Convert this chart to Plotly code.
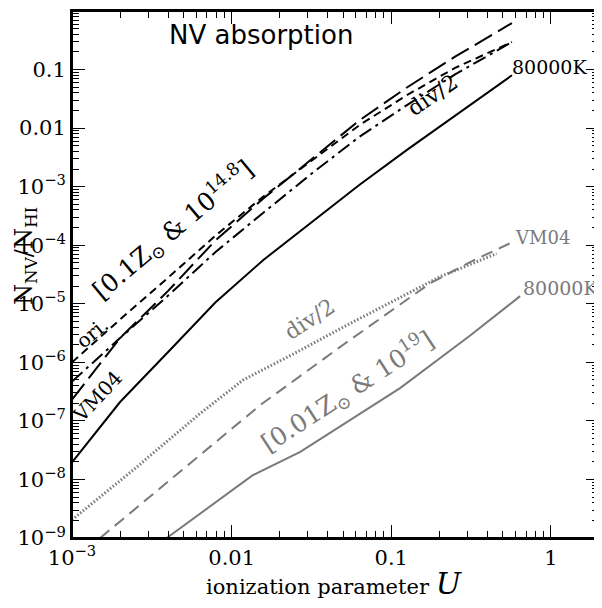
import plotly.graph_objects as go

# ---------------- data ----------------
# black curves: [0.1 Zsun & 10^14.8]
U_black = [0.001, 0.002, 0.004, 0.0079, 0.0158, 0.0316, 0.063, 0.126, 0.251, 0.57]
N_black_80000K = [1.95e-8, 2.1e-7, 1.5e-6, 1.05e-5, 5.6e-5, 2.5e-4, 1.07e-3, 4.3e-3, 1.66e-2, 8.0e-2]
N_black_ori = [1.0e-6, 5.4e-6, 2.8e-5, 1.45e-4, 6.8e-4, 2.8e-3, 1.12e-2, 3.7e-2, 0.107, 0.295]
N_black_VM04 = [2.3e-7, 2.6e-6, 1.66e-5, 1.2e-4, 6.3e-4, 2.95e-3, 1.35e-2, 5.0e-2, 0.166, 0.624]
N_black_div2 = [4.7e-7, 2.6e-6, 1.38e-5, 7.6e-5, 3.6e-4, 1.66e-3, 7.1e-3, 2.5e-2, 8.3e-2, 0.295]

# gray curves: [0.01 Zsun & 10^19]
U_gray_80000K = [0.00392, 0.0135, 0.0269, 0.1135, 0.312, 0.641]
N_gray_80000K = [1.0e-9, 1.17e-8, 2.95e-8, 3.63e-7, 2.88e-6, 1.35e-5]
U_gray_VM04 = [0.0015, 0.004, 0.0151, 0.05, 0.175, 0.316, 0.57]
N_gray_VM04 = [1.0e-9, 9.1e-9, 1.86e-7, 2.0e-6, 2.24e-5, 5.25e-5, 1.12e-4]
U_gray_div2 = [0.001, 0.00251, 0.0063, 0.0118, 0.0251, 0.05, 0.1, 0.202, 0.457]
N_gray_div2 = [2.04e-9, 1.58e-8, 1.32e-7, 5.0e-7, 1.45e-6, 4.0e-6, 1.07e-5, 2.9e-5, 7.2e-5]

x_tickvals = [0.001, 0.01, 0.1, 1]
x_ticktext = ["10<sup>−3</sup>", "0.01", "0.1", "1"]
y_tickvals = [1e-9, 1e-8, 1e-7, 1e-6, 1e-5, 1e-4, 1e-3, 0.01, 0.1, 1]
y_ticktext = ["10<sup>−9</sup>", "10<sup>−8</sup>", "10<sup>−7</sup>", "10<sup>−6</sup>",
              "10<sup>−5</sup>", "10<sup>−4</sup>", "10<sup>−3</sup>", "0.01", "0.1", "1"]

BLACK = "#000000"
GRAY = "#7a7a7a"
SERIF = "DejaVu Serif"

fig = go.Figure()

def add(x, y, color, dash, width=2.0):
    fig.add_trace(go.Scatter(x=x, y=y, mode="lines",
                             line=dict(color=color, dash=dash, width=width),
                             showlegend=False, hoverinfo="skip"))

add(U_gray_div2, N_gray_div2, GRAY, "1.5px,2px", 3)
add(U_gray_VM04, N_gray_VM04, GRAY, "12px,7px")
add(U_gray_80000K, N_gray_80000K, GRAY, "solid")
add(U_black, N_black_div2, BLACK, "14px,5px,3px,5px")
add(U_black, N_black_ori, BLACK, "8px,5px")
add(U_black, N_black_VM04, BLACK, "20px,7px")
add(U_black, N_black_80000K, BLACK, "solid")

# empty trace so the mirrored (top/right) tick axes are drawn
fig.add_trace(go.Scatter(x=[None], y=[None], xaxis="x2", yaxis="y2", mode="lines",
                         showlegend=False, hoverinfo="skip"))

# minor tick positions (2..9 in every decade)
x_minor = [m * 10.0 ** e for e in range(-3, 1) for m in range(2, 10)]
y_minor = [m * 10.0 ** e for e in range(-9, 0) for m in range(2, 10)]

X_RANGE = [-3, 0.30103]
Y_RANGE = [-9, 0.0005]

def axis(tickvals, ticktext, minor_vals, rng, labels=True, **extra):
    d = dict(type="log", range=rng, showgrid=False, zeroline=False,
             showline=True, linecolor="black", linewidth=2,
             ticks="inside", tickcolor="black", tickwidth=1.3,
             ticklen=13, tickmode="array", tickvals=tickvals,
             showticklabels=labels,
             tickfont=dict(family=SERIF, size=21, color="black"),
             minor=dict(ticks="inside", ticklen=7, tickwidth=1.1,
                        tickcolor="black", tickvals=minor_vals, showgrid=False))
    if labels:
        d["ticktext"] = ticktext
    d.update(extra)
    return d

# the page body adds an 8px offset; the plot box must land at x 72..599, y 11..538
OFF = 8
W, H = 602 - OFF, 608 - OFF
L, R, T, B = 72 - OFF, 3, 11 - OFF, 70
pw, ph = W - L - R, H - T - B

fig.update_layout(
    width=W, height=H, margin=dict(l=L, r=R, t=T, b=B),
    plot_bgcolor="white", paper_bgcolor="white",
    xaxis=axis(x_tickvals, x_ticktext, x_minor, X_RANGE),
    yaxis=axis(y_tickvals, y_ticktext, y_minor, Y_RANGE),
    xaxis2=axis(x_tickvals, None, x_minor, X_RANGE, labels=False,
                overlaying="x", side="top", anchor="y2"),
    yaxis2=axis(y_tickvals, None, y_minor, Y_RANGE, labels=False,
                overlaying="y", side="right", anchor="x2"),
)

# frame around the plot
fig.add_shape(type="rect", xref="paper", yref="paper", x0=0, x1=1, y0=0, y1=1,
              line=dict(color="black", width=2), layer="above")

def px(x):
    return (x - OFF - L) / pw

def py(y):
    return (H - B - (y - OFF)) / ph

def note(text, x, y, size, color=BLACK, angle=0, family=SERIF):
    fig.add_annotation(text=text, x=px(x), y=py(y), xref="paper", yref="paper",
                       showarrow=False, textangle=angle, xanchor="center",
                       yanchor="middle",
                       font=dict(family=family, size=size, color=color))

note("NV absorption", 261, 35, 26, family="DejaVu Sans")
note("[0.1Z<sub>⊙</sub> &amp; 10<sup>14.8</sup>]", 173, 230, 25, angle=-40)
note("div/2", 432, 95, 22, angle=-34)
note("80000K", 549, 67, 19)
note("ori.", 92, 333, 20, angle=-40)
note("VM04", 97, 397, 20, angle=-47)
note("[0.01Z<sub>⊙</sub> &amp; 10<sup>19</sup>]", 347, 392, 25, color=GRAY, angle=-33)
note("div/2", 309, 319, 22, color=GRAY, angle=-33)
note("VM04", 542, 237, 18, color=GRAY)
note("80000K", 560, 288, 19, color=GRAY)

# axis titles
note("ionization parameter <span style='font-size:30px'><i>U</i></span>", 334, 583, 21)
note("N<sub>NV</sub>/N<sub>HI</sub>", 26, 256, 24, angle=-90)

fig.write_html("out.html")
